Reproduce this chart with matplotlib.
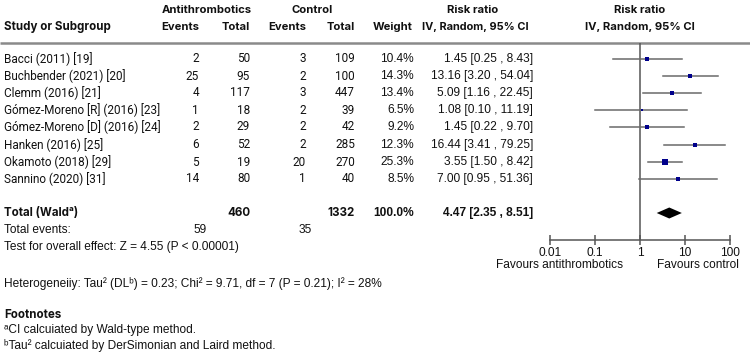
import matplotlib
matplotlib.use("Agg")
import matplotlib.pyplot as plt
import numpy as np

# ---- data ----
studies = ["Bacci (2011) [19]", "Buchbender (2021) [20]", "Clemm (2016) [21]",
           "Gómez-Moreno [R] (2016) [23]", "Gómez-Moreno [D] (2016) [24]",
           "Hanken (2016) [25]", "Okamoto (2018) [29]", "Sannino (2020) [31]"]
anti_events = [2, 25, 4, 1, 2, 6, 5, 14]
anti_total = [50, 95, 117, 18, 29, 52, 19, 80]
ctrl_events = [3, 2, 3, 2, 2, 2, 20, 1]
ctrl_total = [109, 100, 447, 39, 42, 285, 270, 40]
weights = [10.4, 14.3, 13.4, 6.5, 9.2, 12.3, 25.3, 8.5]
rr = [1.45, 13.16, 5.09, 1.08, 1.45, 16.44, 3.55, 7.00]
ci_low = [0.25, 3.20, 1.16, 0.10, 0.22, 3.41, 1.50, 0.95]
ci_high = [8.43, 54.04, 22.45, 11.19, 9.70, 79.25, 8.42, 51.36]
total_anti = 460
total_ctrl = 1332
total_weight = 100.0
events_anti = 59
events_ctrl = 35
pooled_rr, pooled_low, pooled_high = 4.47, 2.35, 8.51
xticks = [0.01, 0.1, 1, 10, 100]
xticklabels = ["0.01", "0.1", "1", "10", "100"]

W, H = 750, 358
fig = plt.figure(figsize=(W / 100, H / 100), dpi=100)
bg = fig.add_axes([0, 0, 1, 1])
bg.set_xlim(0, W)
bg.set_ylim(H, 0)
bg.axis("off")

ROBO = ["Roboto", "DejaVu Sans"]
INTER = ["Inter", "DejaVu Sans"]
ARIAL = ["Liberation Sans", "DejaVu Sans"]
FS = 8.5
FA = 8.6
HB = 8.1
C = "#111111"

def t(x, y, s, ha="left", bold=False, fam=ROBO, fs=FS):
    bg.text(x, y, s, ha=ha, va="center", fontsize=fs, family=fam,
            fontweight="bold" if bold else "normal", color=C)

def h(x, y, s, ha="left", fs=HB):
    t(x, y, s, ha=ha, bold=True, fam=INTER, fs=fs)

# headers
h(207, 10, "Antithrombotics", ha="center")
h(312, 10, "Control", ha="center")
h(473, 10, "Risk ratio", ha="center")
h(640, 10, "Risk ratio", ha="center")
h(4, 27, "Study or Subgroup", fs=8.3)
h(199, 27, "Events", ha="right")
h(250, 27, "Total", ha="right")
h(306, 27, "Events", ha="right")
h(355, 27, "Total", ha="right")
h(413, 27, "Weight", ha="right")
h(529, 27, "IV, Random, 95% CI", ha="right", fs=7.9)
h(640, 27, "IV, Random, 95% CI", ha="center")
bg.plot([0, W], [43, 43], color="#8a8a8a", lw=1.8, solid_capstyle="butt")

row_y = [59, 76, 93, 110, 127, 145, 162, 179]
for i, y in enumerate(row_y):
    t(4, y, studies[i])
    t(199, y, str(anti_events[i]), ha="right")
    t(250, y, str(anti_total[i]), ha="right")
    t(306, y, str(ctrl_events[i]), ha="right")
    t(355, y, str(ctrl_total[i]), ha="right")
    t(414, y, f"{weights[i]:.1f}%", ha="right", fam=ARIAL, fs=FA)
    t(533, y, f"{rr[i]:.2f} [{ci_low[i]:.2f} , {ci_high[i]:.2f}]", ha="right", fam=ARIAL, fs=FA)

ty = 213
h(4, ty, "Total (Waldᵃ)", fs=8.3)
h(250, ty, str(total_anti), ha="right", fs=8.3)
h(355, ty, str(total_ctrl), ha="right", fs=8.3)
t(414, ty, f"{total_weight:.1f}%", ha="right", bold=True, fam=ARIAL, fs=FA)
t(533, ty, f"{pooled_rr:.2f} [{pooled_low:.2f} , {pooled_high:.2f}]", ha="right", bold=True, fam=ARIAL, fs=FA)
t(4, 230, "Total events:", fam=ARIAL, fs=FA)
t(207, 230, str(events_anti), ha="right", fam=ARIAL, fs=FA)
t(312, 230, str(events_ctrl), ha="right", fam=ARIAL, fs=FA)
t(4, 247, "Test for overall effect: Z = 4.55 (P < 0.00001)", fam=ARIAL, fs=FA)
t(4, 283, "Heterogeneiiy: Tau² (DLᵇ) = 0.23; Chi² = 9.71, df = 7 (P = 0.21); I² = 28%", fam=ARIAL, fs=FA)
h(4, 315, "Footnotes", fs=8.3)
t(4, 330, "ᵃCI calcuiated by Wald-type method.", fam=ARIAL, fs=FA)
t(4, 346, "ᵇTau² calcuiated by DerSimonian and Laird method.", fam=ARIAL, fs=FA)

# forest axes
x0, x1, ytop, ybot = 550, 730, 43, 240
ax = fig.add_axes([x0 / W, 1 - ybot / H, (x1 - x0) / W, (ybot - ytop) / H])
ax.set_xscale("log")
ax.set_xlim(0.01, 100)
ax.set_ylim(ybot, ytop)
ax.patch.set_alpha(0)
for s in ["top", "right", "left"]:
    ax.spines[s].set_visible(False)
ax.spines["bottom"].set_color("#555555")
ax.spines["bottom"].set_linewidth(1.1)
ax.set_yticks([])
ax.set_xticks(xticks)
ax.set_xticklabels(xticklabels, family=ARIAL, fontsize=FA)
ax.minorticks_off()
ax.tick_params(axis="x", direction="inout", length=7, width=1.1, color="#555555", pad=1.5, labelcolor=C)
ax.axvline(1, color="#555555", lw=1.1, zorder=1)
for i, y in enumerate(row_y):
    ax.plot([ci_low[i], ci_high[i]], [y, y], color="#6a6a6a", lw=1.1, zorder=2)
    ax.plot([rr[i]], [y], marker="s", color="#00008b", ms=3.8 * np.sqrt(weights[i] / 25.3),
            mew=0, zorder=3)
ax.fill([pooled_low, pooled_rr, pooled_high, pooled_rr], [ty, ty - 5.5, ty, ty + 5.5],
        color="black", zorder=3, lw=0)

t(560, 265, "Favours antithrombotics", ha="center", fam=ARIAL, fs=FA)
t(698, 265, "Favours control", ha="center", fam=ARIAL, fs=FA)

fig.savefig("out.png", dpi=100)
